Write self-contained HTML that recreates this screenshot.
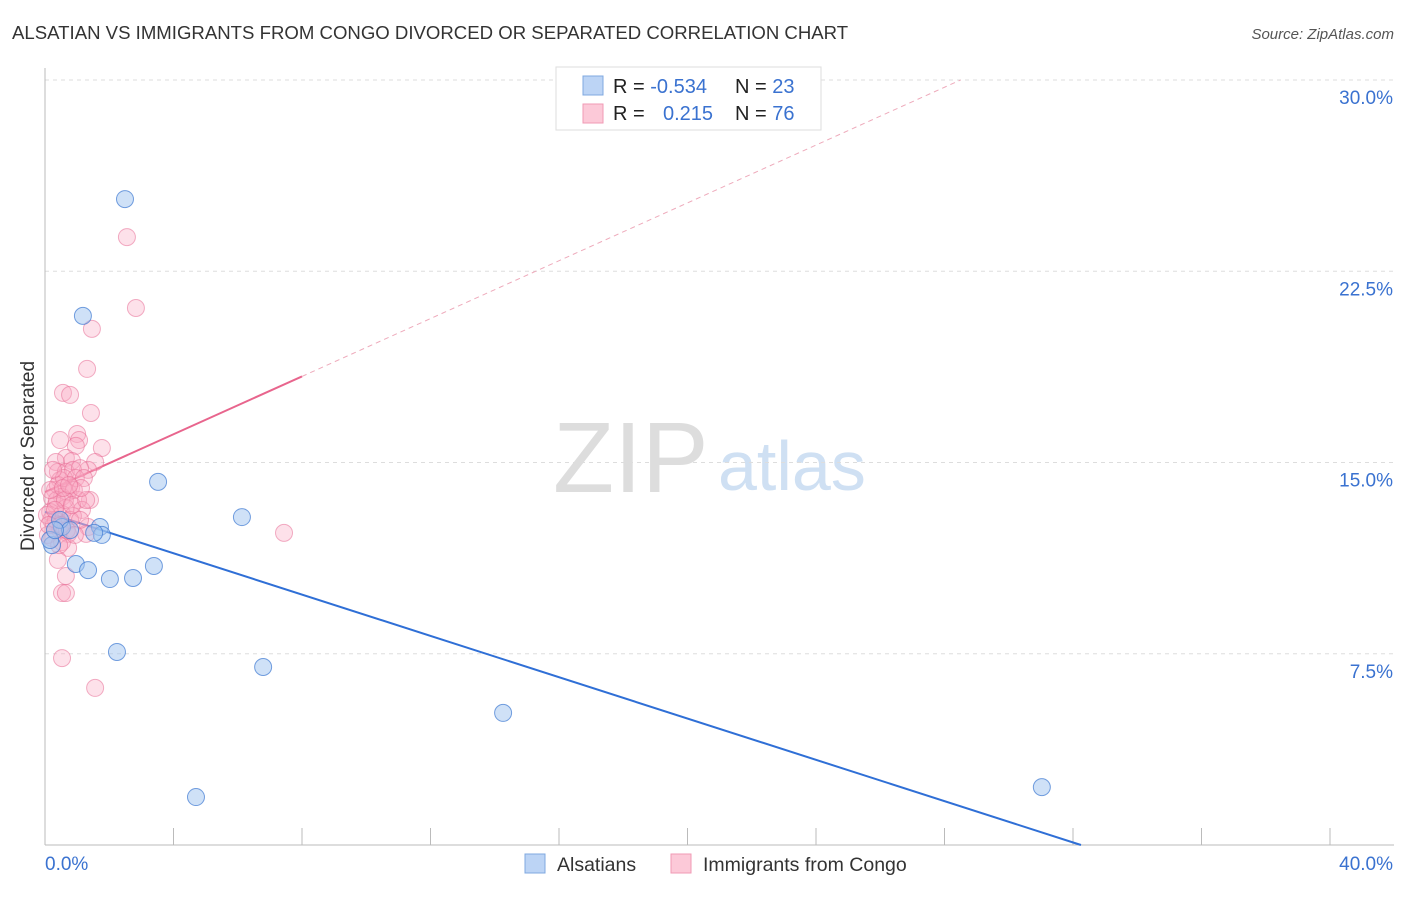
<!DOCTYPE html>
<html><head><meta charset="utf-8"><style>
body{margin:0;background:#fff;font-family:"Liberation Sans",sans-serif;}
svg text{font-family:"Liberation Sans",sans-serif;}
</style></head><body>
<svg id="chart" width="1406" height="892">
<text x="12" y="39" font-size="18.6" fill="#333">ALSATIAN VS IMMIGRANTS FROM CONGO DIVORCED OR SEPARATED CORRELATION CHART</text>
<text x="1394" y="39" font-size="15" fill="#555" font-style="italic" text-anchor="end">Source: ZipAtlas.com</text>
<text x="0" y="0" transform="translate(34,456) rotate(-90)" font-size="19" fill="#333" text-anchor="middle">Divorced or Separated</text>
<g>
<text x="553" y="492" font-size="100" fill="#ddd" font-family="Liberation Serif,serif">ZIP</text>
<text x="718" y="490" font-size="70" fill="#cfe0f3">atlas</text>
</g>
<g id="grid"></g><g id="axes"></g><g id="lines"></g><g id="points"></g>
<g>
<rect x="556" y="67" width="265" height="63" fill="#fff" stroke="#ddd"/>
<rect x="583" y="76" width="20" height="19" fill="#bcd4f5" stroke="#7fa8e0"/>
<rect x="583" y="104" width="20" height="19" fill="#fcc9d8" stroke="#f09ab4"/>
<text x="613" y="93" font-size="20" fill="#222">R = <tspan fill="#3a72d0">-0.534</tspan></text>
<text x="735" y="93" font-size="20" fill="#222">N = <tspan fill="#3a72d0">23</tspan></text>
<text x="613" y="120" font-size="20" fill="#222">R = <tspan fill="#3a72d0" x="663">0.215</tspan></text>
<text x="735" y="120" font-size="20" fill="#222">N = <tspan fill="#3a72d0">76</tspan></text>
</g>
<g>
<rect x="525" y="854" width="20" height="19" fill="#bcd4f5" stroke="#7fa8e0"/>
<text x="557" y="871" font-size="19.5" fill="#333">Alsatians</text>
<rect x="671" y="854" width="20" height="19" fill="#fcc9d8" stroke="#f09ab4"/>
<text x="703" y="871" font-size="19.5" fill="#333">Immigrants from Congo</text>
</g>
</svg>
<script>
const yTicks=[7.5,15,22.5,30];
const yTickLabels=["7.5%","15.0%","22.5%","30.0%"];
const xTicks=[0,4,8,12,16,20,24,28,32,36,40];
const blueX=[2.49,1.18,3.52,6.13,1.71,1.77,0.53,0.22,0.16,0.96,1.34,2.02,2.74,3.39,2.24,6.79,14.26,4.70,31.03,0.47,0.78,0.31,1.53];
const blueY=[25.33,20.75,14.24,12.86,12.47,12.16,12.47,11.76,11.96,11.02,10.78,10.43,10.47,10.94,7.57,6.98,5.18,1.88,2.27,12.75,12.35,12.35,12.24];
const pinkX=[2.55,2.83,1.46,1.31,0.56,0.78,1.43,0.47,1.00,1.06,1.77,0.96,0.65,0.84,1.56,0.34,0.40,1.34,0.65,0.87,1.09,0.47,0.81,0.31,0.72,1.40,0.53,1.03,0.22,0.34,0.65,1.15,0.16,0.53,0.87,1.34,0.19,0.47,0.72,1.28,0.22,0.53,0.72,0.40,0.65,0.53,0.65,0.53,1.56,7.44,0.28,0.40,0.59,0.96,1.21,0.34,0.78,0.09,0.37,0.90,0.16,0.62,1.09,0.25,0.50,0.84,1.28,0.06,0.44,0.68,0.93,0.31,0.56,1.12,0.12,0.75];
const pinkY=[23.84,21.06,20.24,18.67,17.73,17.65,16.94,15.88,16.12,15.88,15.57,15.65,15.18,15.06,15.02,15.02,14.63,14.71,14.63,14.71,14.78,14.31,14.00,13.92,13.84,13.53,13.65,13.53,13.61,13.33,13.22,13.14,13.06,12.98,12.90,12.47,12.75,12.35,12.20,12.20,12.04,11.88,11.65,11.18,10.55,9.88,9.88,7.33,6.16,12.24,12.55,14.12,14.39,14.39,14.39,12.75,12.75,12.16,13.53,13.92,13.92,13.53,12.75,14.71,12.55,13.33,13.53,12.94,11.76,12.35,12.16,13.14,14.00,14.00,12.55,14.12];
const blueFit=[13.06,-0.405];
const pinkFit=[13.84,0.567];
const pinkSolidEnd=8;

const NS="http://www.w3.org/2000/svg";
const X0=45,X1=1330,Y0=845,Y30=80;
const xs=v=>X0+(X1-X0)*v/40;
const ys=v=>Y0-(Y0-Y30)*v/30;
function mk(tag,attrs,parent){const e=document.createElementNS(NS,tag);for(const k in attrs)e.setAttribute(k,attrs[k]);document.getElementById(parent).appendChild(e);return e;}
yTicks.forEach((t,i)=>{
 const g=mk('line',{x1:X0,x2:1394,y1:ys(t),y2:ys(t),stroke:'#ddd','stroke-dasharray':'4,4'},'grid');
 
 
 const l=mk('text',{x:1393,y:ys(t)+24,'font-size':19,fill:'#3a72d0','text-anchor':'end'},'grid');
 l.textContent=yTickLabels[i];
 
 
});
const ax=mk('line',{x1:X0,x2:X0,y1:68,y2:Y0,stroke:'#bbb'},'axes');


const bx=mk('line',{x1:X0,x2:1394,y1:Y0,y2:Y0,stroke:'#bbb'},'axes');


xTicks.forEach(t=>{
 const k=mk('line',{x1:xs(t),x2:xs(t),y1:828,y2:Y0,stroke:'#bbb'},'axes');
 
 
});
const xl0=mk('text',{x:45,y:870,'font-size':19,fill:'#3a72d0'},'axes');xl0.textContent='0.0%';


const xl1=mk('text',{x:1393,y:870,'font-size':19,fill:'#3a72d0','text-anchor':'end'},'axes');xl1.textContent='40.0%';


const bEnd=-blueFit[0]/blueFit[1];
const bl=mk('line',{x1:xs(0),y1:ys(blueFit[0]),x2:xs(bEnd),y2:ys(0),stroke:'#2f6fd6','stroke-width':2},'lines');


const pEnd=(30-pinkFit[0])/pinkFit[1];
const pl=mk('line',{x1:xs(0),y1:ys(pinkFit[0]),x2:xs(pinkSolidEnd),y2:ys(pinkFit[0]+pinkFit[1]*pinkSolidEnd),stroke:'#e8658d','stroke-width':2},'lines');


const pd=mk('line',{x1:xs(pinkSolidEnd),y1:ys(pinkFit[0]+pinkFit[1]*pinkSolidEnd),x2:xs(pEnd),y2:ys(30),stroke:'#eeaabb','stroke-width':1,'stroke-dasharray':'5,4'},'lines');


pinkX.forEach((x,i)=>{
 const c=mk('circle',{cx:xs(x),cy:ys(pinkY[i]),r:8.5,fill:'rgba(248,170,195,0.35)',stroke:'rgba(232,110,150,0.55)','stroke-width':1},'points');
 
 
});
blueX.forEach((x,i)=>{
 const c=mk('circle',{cx:xs(x),cy:ys(blueY[i]),r:8.5,fill:'rgba(160,195,240,0.5)',stroke:'rgba(60,120,210,0.7)','stroke-width':1},'points');
 
 
});
</script>
</body></html>
